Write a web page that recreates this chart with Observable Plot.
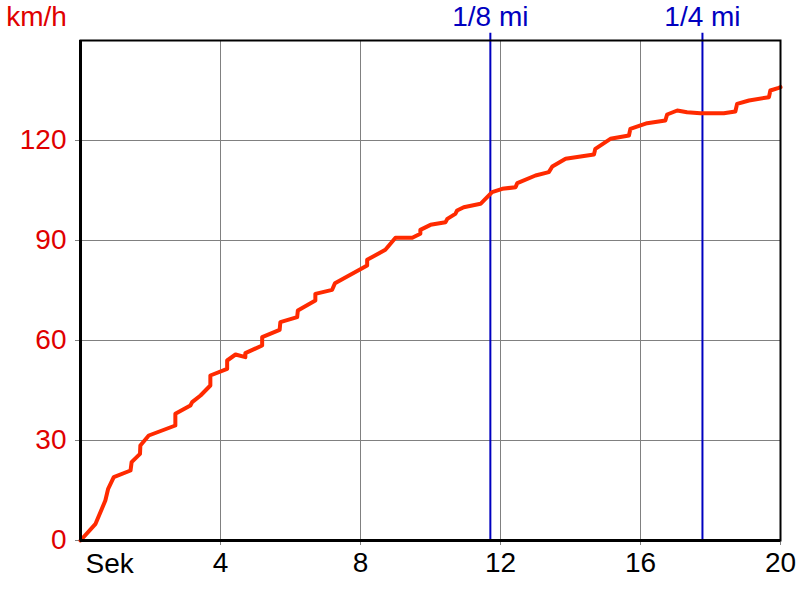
<!DOCTYPE html>
<html>
<head>
<meta charset="utf-8">
<script src="https://cdn.jsdelivr.net/npm/d3@7"></script>
<script src="https://cdn.jsdelivr.net/npm/@observablehq/plot@0.6"></script>
<style>
  html, body { margin: 0; padding: 0; background: #fff; }
  #chart { width: 800px; height: 600px; }
</style>
</head>
<body>
<div id="chart"></div>
<script>
// Elapsed time (s) and speed (km/h)
const times  = [0, 0.43, 0.71, 0.79, 0.95, 1.43, 1.46, 1.70, 1.71, 1.95, 2.71, 2.71, 3.14, 3.19, 3.43, 3.71, 3.71,
                4.19, 4.19, 4.43, 4.71, 4.71, 5.19, 5.19, 5.69, 5.71, 6.19, 6.21, 6.71, 6.71, 7.19, 7.27, 8.19, 8.19,
                8.71, 9.0, 9.48, 9.71, 9.71, 10.0, 10.43, 10.48, 10.71, 10.76, 10.95, 11.43, 11.57, 11.76, 12.05,
                12.43, 12.48, 13.0, 13.38, 13.48, 13.86, 14.67, 14.71, 15.14, 15.67, 15.71, 16.19, 16.71, 16.76,
                17.05, 17.33, 17.71, 18.38, 18.71, 18.76, 19.1, 19.67, 19.71, 19.95, 20];
const speeds = [0, 5, 12, 15.5, 19, 21, 23.5, 26, 28.5, 31.5, 34.5, 38, 40.5, 41.5, 43.5, 46.5, 49.5,
                51.5, 54, 55.8, 55, 56.2, 58.5, 61, 63.2, 65.5, 67, 69, 72, 74, 75.2, 77.2, 82.5, 84.2,
                87.2, 90.8, 90.8, 92, 93.2, 94.7, 95.5, 96.5, 98, 99, 100, 101, 102.5, 104.5, 105.5,
                106, 107.2, 109.5, 110.5, 112.2, 114.5, 115.8, 117.5, 120.5, 121.5, 123.5, 125.2, 126, 127.8,
                129, 128.5, 128.2, 128.2, 128.7, 131, 132, 133, 135, 135.8, 136];
const markerTimes  = [11.71, 17.77];
const markerLabels = ["1/8 mi", "1/4 mi"];
const xTicks = [4, 8, 12, 16, 20];
const yTicks = [0, 30, 60, 90, 120];
const xGrid = [4, 8, 12, 16];
const yGrid = [30, 60, 90, 120];

const data = times.map((t, i) => ({t, v: speeds[i]}));
const markers = markerTimes.map((t, i) => ({t, label: markerLabels[i]}));

const RED = "#e00000", BLUE = "#0000c0", GRID = "#808080";
const FS = 28;

const chart = Plot.plot({
  width: 800,
  height: 600,
  marginLeft: 80,
  marginTop: 40,
  marginRight: 20,
  marginBottom: 60,
  style: {fontFamily: "'Liberation Sans', Arial, sans-serif", fontSize: FS + "px", background: "#fff"},
  x: {domain: [0, 20]},
  y: {domain: [0, 150]},
  marks: [
    Plot.ruleX(xGrid, {stroke: GRID, strokeWidth: 1, y1: 0, y2: 150}),
    Plot.ruleY(yGrid, {stroke: GRID, strokeWidth: 1, x1: 0, x2: 20}),
    Plot.axisY(yTicks, {tickSize: 5, tickPadding: 9, fill: RED, stroke: GRID, label: null, fontSize: FS}),
    Plot.axisX(xTicks, {tickSize: 5, tickPadding: 7, fill: "black", stroke: GRID, label: null, fontSize: FS}),
    Plot.text(["Sek"], {x: 0, y: 0, text: d => d, textAnchor: "start", dx: 5, dy: 24, fill: "black", fontSize: FS}),
    Plot.text(["km/h"], {x: 0, y: 150, text: d => d, textAnchor: "middle", dx: -44, dy: -23, fill: RED, fontSize: FS}),
    Plot.ruleX(markers, {x: "t", y1: 0, y2: 152.2, stroke: BLUE, strokeWidth: 2}),
    Plot.text(markers, {x: "t", y: 150, text: "label", dy: -23, fill: BLUE, fontSize: FS}),
    Plot.line(data, {x: "t", y: "v", stroke: "#ff2a00", strokeWidth: 4, strokeLinejoin: "round"}),
    Plot.frame({stroke: "black", strokeWidth: 2}),
    Plot.ruleX([0], {stroke: "black", strokeWidth: 3, y1: 0, y2: 150}),
    Plot.ruleY([0], {stroke: "black", strokeWidth: 3, x1: 0, x2: 20})
  ]
});
document.getElementById("chart").appendChild(chart);
</script>
</body>
</html>
